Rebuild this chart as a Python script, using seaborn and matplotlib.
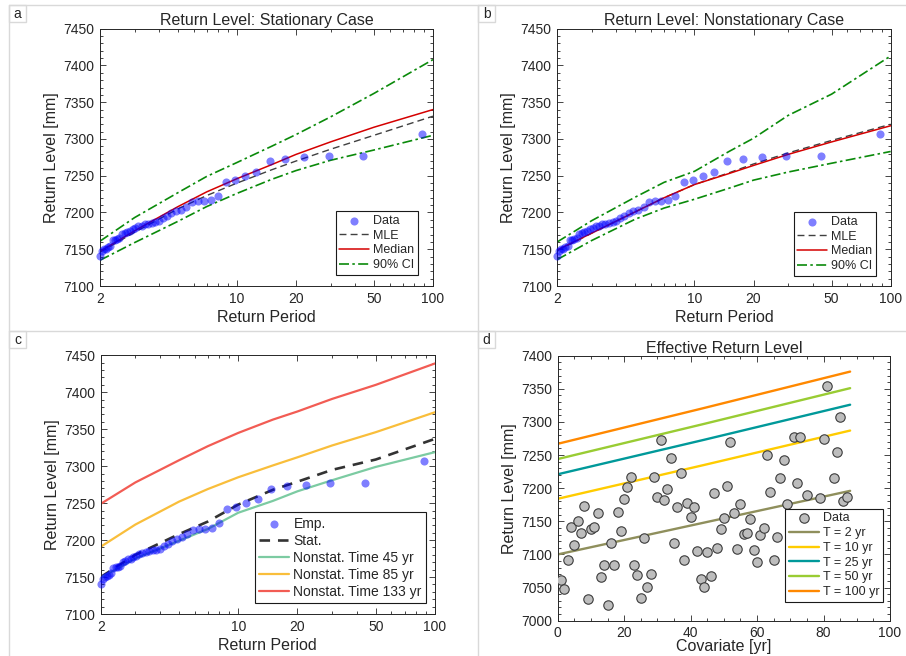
import matplotlib
matplotlib.use("Agg")
import numpy as np
import pandas as pd
import matplotlib.pyplot as plt
import seaborn as sns
from matplotlib.lines import Line2D
from matplotlib.patches import Rectangle
from matplotlib.ticker import FixedLocator, FixedFormatter, MultipleLocator, NullFormatter

W, H = 906, 656

# empirical return levels (sorted maxima) and their return periods
emp_period = [88.0, 44.0, 29.33, 22.0, 17.6, 14.67, 12.57, 11.0, 9.78, 8.8,
              8.0, 7.33, 6.77, 6.29, 5.87, 5.5, 5.18, 4.89, 4.63, 4.4,
              4.19, 4.0, 3.83, 3.67, 3.52, 3.38, 3.26, 3.14, 3.03, 2.93,
              2.84, 2.75, 2.67, 2.59, 2.51, 2.44, 2.38, 2.32, 2.26, 2.2,
              2.15, 2.1, 2.05, 2.0]
emp_level = [7306.7, 7277.5, 7277, 7275, 7272.5, 7269.5, 7255, 7250, 7244.5, 7242,
             7222.5, 7217, 7215.5, 7215, 7214, 7208, 7204, 7202, 7199, 7195,
             7192, 7188, 7187, 7186, 7185, 7184, 7182, 7181, 7179, 7177,
             7175, 7174, 7172, 7171, 7165, 7164, 7163, 7162, 7155, 7153,
             7151, 7150, 7148, 7141]

# fitted return level curves
ret_period = [2, 3, 5, 7, 10, 15, 20, 30, 50, 100]
stat_mle = [7146, 7173, 7205, 7223, 7240, 7258, 7270, 7286, 7305, 7331]
stat_median = [7147, 7175, 7208, 7228, 7246, 7265, 7279, 7296, 7316, 7340]
stat_lo = [7135, 7159, 7188, 7208, 7226, 7245, 7257, 7271, 7285, 7305]
stat_hi = [7161, 7193, 7227, 7249, 7268, 7290, 7306, 7330, 7362, 7408]

ns_mle = [7148, 7172, 7201, 7220, 7238, 7254, 7266, 7281, 7298, 7320]
ns_median = [7149, 7172, 7201, 7220, 7238, 7253, 7264, 7279, 7296, 7318]
ns_lo = [7136, 7162, 7191, 7206, 7218, 7233, 7244, 7255, 7267, 7283]
ns_hi = [7160, 7189, 7221, 7241, 7256, 7283, 7301, 7332, 7361, 7413]

time45 = [7149, 7175, 7199, 7215, 7237, 7253, 7266, 7281, 7299, 7319]
time85 = [7191, 7221, 7252, 7269, 7285, 7301, 7312, 7328, 7346, 7373]
time133 = [7249, 7278, 7308, 7327, 7345, 7363, 7374, 7391, 7410, 7439]
stat_curve = [7150, 7180, 7208, 7225, 7248, 7268, 7279, 7295, 7309, 7337]

# effective return level
covariate = np.arange(1, 88)
obs_level = [7062, 7048, 7092, 7141, 7115, 7151, 7133, 7173, 7032, 7138,
             7141, 7163, 7066, 7084, 7023, 7117, 7084, 7164, 7136, 7184,
             7202, 7217, 7084, 7069, 7034, 7125, 7051, 7071, 7217, 7186,
             7273, 7182, 7199, 7245, 7118, 7172, 7223, 7092, 7178, 7156,
             7172, 7105, 7063, 7051, 7104, 7068, 7192, 7110, 7138, 7155,
             7204, 7270, 7163, 7108, 7176, 7131, 7133, 7153, 7106, 7089,
             7130, 7140, 7250, 7195, 7091, 7126, 7216, 7242, 7176, 7120,
             7278, 7208, 7278, 7100, 7189, 7140, 7060, 7090, 7185, 7275,
             7355, 7150, 7215, 7255, 7307, 7181, 7187]
eff_cov = [0, 44, 88]
eff_T2 = [7100, 7148, 7196]
eff_T10 = [7184, 7235, 7287]
eff_T25 = [7221, 7273, 7326]
eff_T50 = [7244, 7297, 7351]
eff_T100 = [7267, 7321, 7376]

sns.set_theme(style="ticks")
dark = '#262626'
plt.rcParams.update({
    'font.family': ['Liberation Sans', 'DejaVu Sans'],
    'text.color': dark, 'axes.labelcolor': dark,
    'xtick.color': dark, 'ytick.color': dark,
    'axes.edgecolor': dark, 'axes.linewidth': 0.7,
})

fig = plt.figure(figsize=(W / 100, H / 100), dpi=100)


def add_panel(left, top, right, bottom):
    return fig.add_axes([left / W, 1 - bottom / H, (right - left) / W, (bottom - top) / H])


def style_axes(ax):
    ax.tick_params(which='both', direction='in', top=True, right=True,
                   labelsize=10, width=0.6, pad=4)
    ax.tick_params(which='major', length=4)
    ax.tick_params(which='minor', length=2)
    for s in ax.spines.values():
        s.set_visible(True)


def log_period_axis(ax):
    ax.set_xscale('log')
    ax.set_xlim(2, 100)
    ax.xaxis.set_major_locator(FixedLocator([2, 10, 20, 50, 100]))
    ax.xaxis.set_major_formatter(FixedFormatter(['2', '10', '20', '50', '100']))
    ax.xaxis.set_minor_locator(FixedLocator([3, 4, 5, 6, 7, 8, 9, 30, 40, 60, 70, 80, 90]))
    ax.xaxis.set_minor_formatter(NullFormatter())
    ax.set_ylim(7100, 7450)
    ax.yaxis.set_major_locator(MultipleLocator(50))
    ax.yaxis.set_minor_locator(MultipleLocator(10))
    ax.set_xlabel('Return Period', fontsize=11.5, labelpad=3)
    ax.set_ylabel('Return Level [mm]', fontsize=11.5, labelpad=3)


def make_legend(ax, order, anchor, fs, hl=2.4):
    handles, labels = ax.get_legend_handles_labels()
    lookup = dict(zip(labels, handles))
    leg = ax.legend([lookup[k] for k in order], order, loc='lower right',
                    bbox_to_anchor=anchor, borderaxespad=0, fontsize=fs,
                    frameon=True, fancybox=False, framealpha=1, edgecolor='#1a1a1a',
                    handlelength=hl, handletextpad=0.3, labelspacing=0.22,
                    borderpad=0.3)
    leg.get_frame().set_linewidth(0.8)


emp = pd.DataFrame({'period': emp_period, 'level': emp_level})
curves = pd.DataFrame({'period': ret_period,
                       'stat_mle': stat_mle, 'stat_median': stat_median,
                       'stat_lo': stat_lo, 'stat_hi': stat_hi,
                       'ns_mle': ns_mle, 'ns_median': ns_median,
                       'ns_lo': ns_lo, 'ns_hi': ns_hi,
                       't45': time45, 't85': time85, 't133': time133,
                       'stat': stat_curve})

dot_kw = dict(color='blue', alpha=0.5, s=34, linewidth=0, clip_on=False, zorder=3)
mle_color = '#404040'
med_color = '#d40000'
ci_color = '#0a8a0a'

# panel a / b
for ax_box, prefix, title in [((100, 28.7, 433, 286), 'stat', 'Return Level: Stationary Case'),
                              ((557.3, 28.7, 890.7, 286), 'ns', 'Return Level: Nonstationary Case')]:
    ax = add_panel(*ax_box)
    sns.scatterplot(data=emp, x='period', y='level', ax=ax, label='Data', **dot_kw)
    sns.lineplot(data=curves, x='period', y=prefix + '_mle', ax=ax, color=mle_color,
                 linewidth=1.0, linestyle=(0, (5, 3)), label='MLE', estimator=None)
    sns.lineplot(data=curves, x='period', y=prefix + '_median', ax=ax, color=med_color,
                 linewidth=1.1, label='Median', estimator=None)
    sns.lineplot(data=curves, x='period', y=prefix + '_hi', ax=ax, color=ci_color,
                 linewidth=1.2, linestyle=(0, (6, 2, 1.5, 2)), label='90% CI', estimator=None)
    sns.lineplot(data=curves, x='period', y=prefix + '_lo', ax=ax, color=ci_color,
                 linewidth=1.2, linestyle=(0, (6, 2, 1.5, 2)), estimator=None)
    log_period_axis(ax)
    style_axes(ax)
    ax.set_title(title, fontsize=11.5, pad=3)
    if prefix == 'stat':
        make_legend(ax, ['Data', 'MLE', 'Median', '90% CI'], (0.955, 0.043), 9)
    else:
        make_legend(ax, ['Data', 'MLE', 'Median', '90% CI'], (0.956, 0.039), 9)

# panel c
ax = add_panel(100.7, 355.3, 435, 614)
sns.scatterplot(data=emp, x='period', y='level', ax=ax, label='Emp.', **dot_kw)
sns.lineplot(data=curves, x='period', y='stat', ax=ax, color='#333333', linewidth=1.9,
             linestyle=(0, (4, 3)), label='Stat.', estimator=None)
sns.lineplot(data=curves, x='period', y='t45', ax=ax, color='#7ccba2', linewidth=1.6,
             label='Nonstat. Time 45 yr', estimator=None)
sns.lineplot(data=curves, x='period', y='t85', ax=ax, color='#f9be3b', linewidth=1.6,
             label='Nonstat. Time 85 yr', estimator=None)
sns.lineplot(data=curves, x='period', y='t133', ax=ax, color='#f25c54', linewidth=1.6,
             label='Nonstat. Time 133 yr', estimator=None)
log_period_axis(ax)
style_axes(ax)
make_legend(ax, ['Emp.', 'Stat.', 'Nonstat. Time 45 yr', 'Nonstat. Time 85 yr',
                 'Nonstat. Time 133 yr'], (0.973, 0.0425), 10, hl=2.2)

# panel d
obs = pd.DataFrame({'cov': covariate, 'level': obs_level})
eff = pd.DataFrame({'cov': eff_cov, 'T2': eff_T2, 'T10': eff_T10, 'T25': eff_T25,
                    'T50': eff_T50, 'T100': eff_T100})
ax = add_panel(557.7, 355.7, 890, 620.7)
sns.scatterplot(data=obs, x='cov', y='level', ax=ax, label='Data', color='#bdbdbd',
                edgecolor='#3c3c3c', linewidth=0.8, s=46, zorder=3)
eff_colors = {'T2': '#8f8f5c', 'T10': '#ffcc00', 'T25': '#00999a',
              'T50': '#99cc33', 'T100': '#ff8800'}
eff_labels = {'T2': 'T = 2 yr', 'T10': 'T = 10 yr', 'T25': 'T = 25 yr',
              'T50': 'T = 50 yr', 'T100': 'T = 100 yr'}
for key in ['T2', 'T10', 'T25', 'T50', 'T100']:
    sns.lineplot(data=eff, x='cov', y=key, ax=ax, color=eff_colors[key], linewidth=1.7,
                 label=eff_labels[key], estimator=None, zorder=2)
ax.set_xlim(0, 100)
ax.set_ylim(7000, 7400)
ax.xaxis.set_major_locator(MultipleLocator(20))
ax.xaxis.set_minor_locator(MultipleLocator(5))
ax.yaxis.set_major_locator(MultipleLocator(50))
ax.yaxis.set_minor_locator(MultipleLocator(10))
ax.set_xlabel('Covariate [yr]', fontsize=11.5, labelpad=-1)
ax.set_ylabel('Return Level [mm]', fontsize=11.5, labelpad=3)
ax.set_title('Effective Return Level', fontsize=11.5, pad=2)
style_axes(ax)
make_legend(ax, ['Data'] + list(eff_labels.values()), (0.979, 0.0706), 9)

# panel frames and tags
border = '#d9d9d9'
for (x0, y0, x1, y1) in [(9, 5, W, 5), (9, 5, 9, H), (478, 5, 478, H), (9, 331, W, 331)]:
    fig.add_artist(Line2D([x0 / W, x1 / W], [1 - y0 / H, 1 - y1 / H],
                          transform=fig.transFigure, color=border, linewidth=1))
for tag, x, y in [('a', 9, 5), ('b', 478, 5), ('c', 9, 331), ('d', 478, 331)]:
    fig.add_artist(Rectangle((x / W, 1 - (y + 17) / H), 17 / W, 17 / H,
                             transform=fig.transFigure, facecolor='white',
                             edgecolor=border, linewidth=1))
    fig.text((x + 8.5) / W, 1 - (y + 8.5) / H, tag, ha='center', va='center', fontsize=10)

fig.savefig('out.png', dpi=100, facecolor='white')
